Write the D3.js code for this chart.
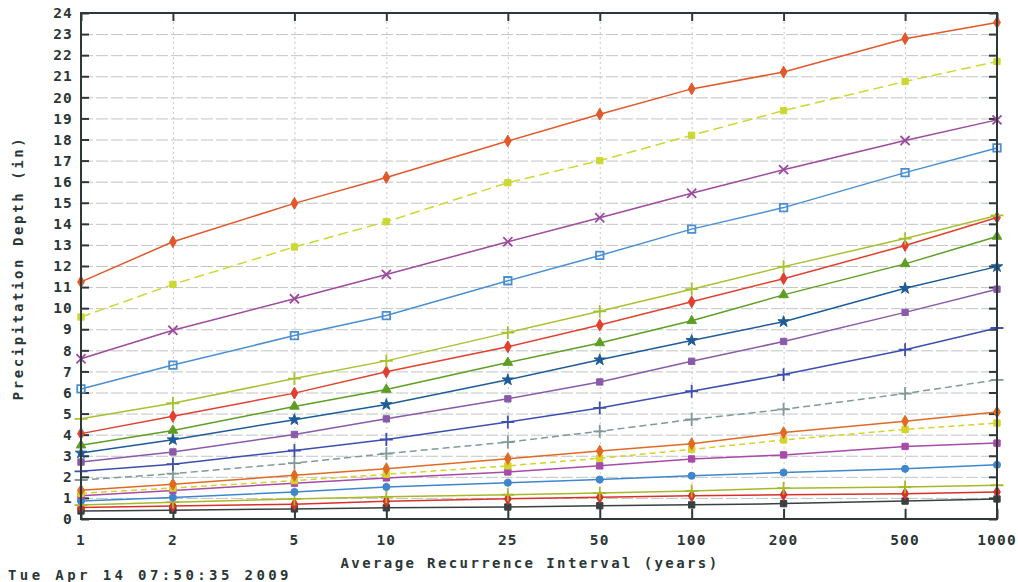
<!DOCTYPE html>
<html>
<head>
<meta charset="utf-8">
<script src="https://cdn.jsdelivr.net/npm/d3@7.9.0/dist/d3.min.js"></script>
<style>
  body { margin: 0; background: #fff; }
  text { font-family: "DejaVu Sans Mono", monospace; font-weight: bold; fill: #2b3636; }
</style>
</head>
<body>
<svg id="chart" width="1018" height="582"></svg>
<script>
// average recurrence intervals (years)
const intervals = [1, 2, 5, 10, 25, 50, 100, 200, 500, 1000];
const yTicks = d3.range(0, 25);

// precipitation depth (in) per duration
const min5   = [0.38, 0.42, 0.48, 0.53, 0.57, 0.63, 0.67, 0.73, 0.85, 0.95];
const min10  = [0.55, 0.62, 0.70, 0.84, 0.96, 1.03, 1.10, 1.15, 1.20, 1.28];
const min15  = [0.66, 0.80, 0.95, 1.05, 1.15, 1.23, 1.33, 1.46, 1.52, 1.60];
const min30  = [0.85, 1.02, 1.28, 1.52, 1.72, 1.87, 2.05, 2.20, 2.38, 2.57];
const min60  = [1.10, 1.35, 1.70, 1.95, 2.23, 2.52, 2.85, 3.04, 3.44, 3.60];
const hr2    = [1.22, 1.47, 1.82, 2.12, 2.52, 2.88, 3.30, 3.75, 4.25, 4.55];
const hr3    = [1.36, 1.65, 2.07, 2.38, 2.86, 3.22, 3.57, 4.10, 4.64, 5.07];
const hr6    = [1.85, 2.15, 2.65, 3.10, 3.65, 4.16, 4.72, 5.20, 5.95, 6.60];
const hr12   = [2.26, 2.60, 3.25, 3.77, 4.60, 5.27, 6.06, 6.85, 8.03, 9.06];
const hr24   = [2.70, 3.18, 4.01, 4.75, 5.70, 6.50, 7.48, 8.42, 9.80, 10.90];
const day2   = [3.13, 3.76, 4.71, 5.43, 6.60, 7.55, 8.47, 9.36, 10.94, 11.97];
const day4   = [3.50, 4.20, 5.34, 6.14, 7.42, 8.35, 9.40, 10.63, 12.10, 13.40];
const day7   = [4.05, 4.87, 5.97, 6.98, 8.17, 9.20, 10.30, 11.40, 12.97, 14.30];
const day10  = [4.75, 5.49, 6.66, 7.50, 8.84, 9.85, 10.90, 11.97, 13.30, 14.40];
const day20  = [6.17, 7.30, 8.70, 9.65, 11.30, 12.50, 13.75, 14.77, 16.43, 17.60];
const day30  = [7.60, 8.95, 10.45, 11.60, 13.15, 14.29, 15.45, 16.57, 17.95, 18.93];
const day45  = [9.58, 11.13, 12.90, 14.10, 15.95, 17.00, 18.20, 19.37, 20.75, 21.70];
const day60  = [11.25, 13.15, 14.97, 16.20, 17.93, 19.20, 20.40, 21.20, 22.78, 23.55];

const series = [
  { values: min5,  color: '#3a3f3f', symbol: d3.symbolSquare,   fill: true,  dash: null },
  { values: min10, color: '#d8312a', symbol: d3.symbolDiamond,  fill: true,  dash: null },
  { values: min15, color: '#a8b828', symbol: d3.symbolPlus,     fill: false, dash: null },
  { values: min30, color: '#3f86cc', symbol: d3.symbolCircle,   fill: true,  dash: null },
  { values: min60, color: '#a84aa8', symbol: d3.symbolSquare,   fill: true,  dash: null },
  { values: hr2,   color: '#d6d22a', symbol: d3.symbolSquare,   fill: true,  dash: '6,4' },
  { values: hr3,   color: '#e06a24', symbol: d3.symbolDiamond,  fill: true,  dash: null },
  { values: hr6,   color: '#7f9a98', symbol: d3.symbolPlus,     fill: false, dash: '7,4' },
  { values: hr12,  color: '#3d4fae', symbol: d3.symbolPlus,     fill: false, dash: null },
  { values: hr24,  color: '#8a5aaa', symbol: d3.symbolSquare,   fill: true,  dash: null },
  { values: day2,  color: '#1e5c98', symbol: d3.symbolStar,     fill: true,  dash: null },
  { values: day4,  color: '#5e9e22', symbol: d3.symbolTriangle, fill: true,  dash: null },
  { values: day7,  color: '#e2402e', symbol: d3.symbolDiamond,  fill: true,  dash: null },
  { values: day10, color: '#a6c230', symbol: d3.symbolPlus,     fill: false, dash: null },
  { values: day20, color: '#4a8fd2', symbol: d3.symbolSquare,   fill: false, dash: null },
  { values: day30, color: '#9e4a9e', symbol: d3.symbolTimes,    fill: false, dash: null },
  { values: day45, color: '#cbd834', symbol: d3.symbolSquare,   fill: true,  dash: '10,5' },
  { values: day60, color: '#e2582a', symbol: d3.symbolDiamond,  fill: true,  dash: null },
];

const margin = { top: 13, right: 21, bottom: 63, left: 81 };
const width = 1018, height = 582;
const plot = {
  left: margin.left,
  right: width - margin.right,
  top: margin.top,
  bottom: height - margin.bottom,
};

const x = d3.scaleLog().domain([1, 1000]).range([plot.left, plot.right]);
const y = d3.scaleLinear().domain([0, 24]).range([plot.bottom, plot.top]);

const svg = d3.select('#chart');

// horizontal gridlines
svg.append('g')
  .attr('transform', `translate(${plot.left},0)`)
  .call(d3.axisLeft(y).tickValues(yTicks).tickFormat('').tickSize(-(plot.right - plot.left)))
  .call(g => g.select('.domain').remove())
  .call(g => g.selectAll('line').attr('stroke', '#bfc4c4').attr('stroke-dasharray', '12,3'));

// vertical gridlines
svg.append('g')
  .attr('transform', `translate(0,${plot.bottom})`)
  .call(d3.axisBottom(x).tickValues(intervals).tickFormat('').tickSize(-(plot.bottom - plot.top)))
  .call(g => g.select('.domain').remove())
  .call(g => g.selectAll('line').attr('stroke', '#c4c8c8').attr('stroke-dasharray', '2,3'));

// inward tick marks on all four sides
svg.append('g')
  .attr('transform', `translate(${plot.left},0)`)
  .call(d3.axisRight(y).tickValues(yTicks).tickFormat('').tickSize(8))
  .call(g => g.select('.domain').remove())
  .call(g => g.selectAll('line').attr('stroke', '#2e3838').attr('stroke-width', 2));
svg.append('g')
  .attr('transform', `translate(${plot.right},0)`)
  .call(d3.axisLeft(y).tickValues(yTicks).tickFormat('').tickSize(8))
  .call(g => g.select('.domain').remove())
  .call(g => g.selectAll('line').attr('stroke', '#2e3838').attr('stroke-width', 2));
svg.append('g')
  .attr('transform', `translate(0,${plot.bottom})`)
  .call(d3.axisTop(x).tickValues(intervals).tickFormat('').tickSize(10))
  .call(g => g.select('.domain').remove())
  .call(g => g.selectAll('line').attr('stroke', '#2e3838').attr('stroke-width', 2));
svg.append('g')
  .attr('transform', `translate(0,${plot.top})`)
  .call(d3.axisBottom(x).tickValues(intervals).tickFormat('').tickSize(8))
  .call(g => g.select('.domain').remove())
  .call(g => g.selectAll('line').attr('stroke', '#2e3838').attr('stroke-width', 2));

// series lines and markers
const line = d3.line()
  .x((d, i) => x(intervals[i]))
  .y(d => y(d));

const groups = svg.append('g').attr('class', 'series')
  .selectAll('g')
  .data(series)
  .join('g');

groups.append('path')
  .attr('d', d => line(d.values))
  .attr('fill', 'none')
  .attr('stroke', d => d.color)
  .attr('stroke-width', 1.5)
  .attr('stroke-dasharray', d => d.dash);

groups.each(function (s) {
  const sym = d3.symbol().type(s.symbol).size(s.fill ? 40 : 56);
  d3.select(this).selectAll('path.pt')
    .data(s.values)
    .join('path')
    .attr('class', 'pt')
    .attr('transform', (d, i) => `translate(${x(intervals[i])},${y(d)})`)
    .attr('d', sym)
    .attr('fill', s.fill ? s.color : 'none')
    .attr('stroke', s.color)
    .attr('stroke-width', s.fill ? 1 : 1.8);
});

// frame
svg.append('rect')
  .attr('x', plot.left)
  .attr('y', plot.top)
  .attr('width', plot.right - plot.left)
  .attr('height', plot.bottom - plot.top)
  .attr('fill', 'none')
  .attr('stroke', '#2e3838')
  .attr('stroke-width', 2);

// tick labels
svg.append('g')
  .selectAll('text')
  .data(yTicks)
  .join('text')
  .attr('x', plot.left - 8)
  .attr('y', d => y(d))
  .attr('dy', '0.36em')
  .attr('text-anchor', 'end')
  .attr('font-size', 14.5)
  .attr('letter-spacing', 1.2)
  .text(d => d);

svg.append('g')
  .selectAll('text')
  .data(intervals)
  .join('text')
  .attr('x', d => x(d))
  .attr('y', plot.bottom + 26)
  .attr('text-anchor', 'middle')
  .attr('font-size', 14.5)
  .attr('letter-spacing', 1.2)
  .text(d => d);

// axis titles
svg.append('text')
  .attr('x', 530)
  .attr('y', 568)
  .attr('text-anchor', 'middle')
  .attr('font-size', 14)
  .attr('letter-spacing', 2.4)
  .text('Average Recurrence Interval (years)');

svg.append('text')
  .attr('transform', 'translate(23,268) rotate(-90)')
  .attr('text-anchor', 'middle')
  .attr('font-size', 14)
  .attr('letter-spacing', 2.6)
  .text('Precipitation Depth (in)');

svg.append('text')
  .attr('x', 8)
  .attr('y', 580)
  .attr('font-size', 14)
  .attr('letter-spacing', 3.4)
  .text('Tue Apr 14 07:50:35 2009');
</script>
</body>
</html>
